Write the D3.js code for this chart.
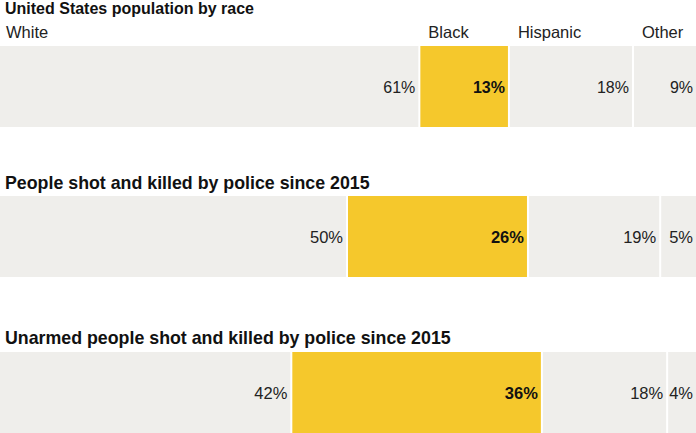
<!DOCTYPE html>
<html>
<head>
  <meta charset="utf-8">
  <style>
    body { margin: 0; background: #fff; }
    svg { display: block; font-family: "Liberation Sans", Arial, sans-serif; }
    .title { font-weight: bold; fill: #111; }
    .cat { font-size: 16.5px; fill: #222; }
    .val { fill: #222; }
    .val.hl { font-weight: bold; fill: #111; }
  </style>
</head>
<body>
  <script src="https://d3js.org/d3.v7.min.js"></script>
  <svg width="696" height="433"></svg>
  <script>
    // data
    var categories = ["White", "Black", "Hispanic", "Other"];
    var rowTitles = [
      "United States population by race",
      "People shot and killed by police since 2015",
      "Unarmed people shot and killed by police since 2015"
    ];
    var population = [61, 13, 18, 9];
    var shotByPolice = [50, 26, 19, 5];
    var unarmedShot = [42, 36, 18, 4];

    var rows = [population, shotByPolice, unarmedShot];

    var svg = d3.select("svg"),
        width = +svg.attr("width");

    // layout of each row (title baseline, bar top, font sizes)
    var layout = [
      {titleY: 14, barY: 46, titleSize: 16, valSize: 16},
      {titleY: 189, barY: 196, titleSize: 17.8, valSize: 16.5},
      {titleY: 344, barY: 352, titleSize: 17.8, valSize: 16.5}
    ];
    var barH = 81;

    var color = function(c) { return c === "Black" ? "#f5c82c" : "#efeeeb"; };

    rows.forEach(function(vals, i) {
      var total = d3.sum(vals);
      var x = d3.scaleLinear().domain([0, total]).range([0, width]);
      var cum = 0;
      var segs = vals.map(function(v, j) {
        var s = {cat: categories[j], v: v, x0: cum, x1: cum + v};
        cum += v;
        return s;
      });

      var g = svg.append("g").attr("transform", "translate(0," + layout[i].barY + ")");

      svg.append("text")
        .attr("class", "title")
        .attr("x", 5)
        .attr("y", layout[i].titleY)
        .style("font-size", layout[i].titleSize + "px")
        .text(rowTitles[i]);

      g.selectAll("rect")
        .data(segs)
        .enter().append("rect")
        .attr("x", function(d) { return x(d.x0); })
        .attr("width", function(d, j) { return x(d.x1) - x(d.x0) - (j < segs.length - 1 ? 2 : 0); })
        .attr("y", 0)
        .attr("height", barH)
        .attr("fill", function(d) { return color(d.cat); });

      g.selectAll(".val")
        .data(segs)
        .enter().append("text")
        .attr("class", function(d) { return d.cat === "Black" ? "val hl" : "val"; })
        .attr("x", function(d, j) { return x(d.x1) - (j < segs.length - 1 ? 5 : 3); })
        .attr("y", barH / 2 + 6)
        .attr("text-anchor", "end")
        .style("font-size", layout[i].valSize + "px")
        .text(function(d) { return d.v + "%"; });

      if (i === 0) {
        svg.append("g").selectAll(".cat")
          .data(segs)
          .enter().append("text")
          .attr("class", "cat")
          .attr("x", function(d) { return x(d.x0) + (d.x0 === 0 ? 6 : 8); })
          .attr("y", 38)
          .text(function(d) { return d.cat; });
      }
    });
  </script>
</body>
</html>
